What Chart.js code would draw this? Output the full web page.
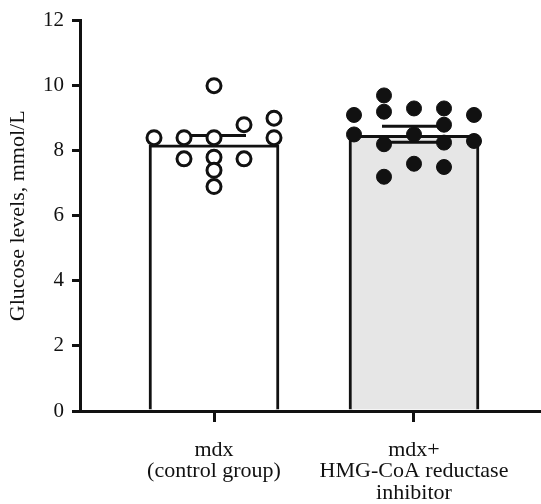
<!DOCTYPE html>
<html>
<head>
<meta charset="utf-8">
<script src="https://cdn.jsdelivr.net/npm/chart.js@4.4.1/dist/chart.umd.min.js"></script>
<style>
  html, body { margin: 0; padding: 0; background: #fff; overflow: hidden; }
  canvas { display: block; }
</style>
</head>
<body>
<canvas id="c" width="541" height="504"></canvas>
<script>
// ---- data ----
const categories = [["mdx", "(control group)"], ["mdx+", "HMG-CoA reductase", "inhibitor"]];
const means = [8.18, 8.47];
const errUpper = [0.29, 0.28];
const errLower = [0, 0.21];
const yTicks = [0, 2, 4, 6, 8, 10, 12];
const controlValues = [10.0, 8.4, 8.4, 8.4, 8.8, 9.0, 8.4, 7.75, 7.8, 7.75, 7.4, 6.9];
const controlCols   = [0, -2, -1, 0, 1, 2, 2, -1, 0, 1, 0, 0];
const treatedValues = [9.7, 9.2, 9.1, 9.3, 9.3, 9.1, 8.5, 8.8, 8.5, 8.25, 8.2, 8.3, 7.6, 7.5, 7.2];
const treatedCols   = [-1, -1, -2, 0, 1, 2, -2, 1, 0, 1, -1, 2, 0, 1, -1];
const yTitle = "Glucose levels, mmol/L";

// ---- styling ----
const colSpacing = 0.15;
const capHalf = 0.16;
const ink = '#111111';
const serif = "'Liberation Serif', 'Times New Roman', serif";

const barData = means.map((m, i) => ({ x: i, y: m }));
const errData = [];
means.forEach((m, i) => {
  const up = m + errUpper[i], lo = m - errLower[i];
  errData.push({ x: i - capHalf, y: up }, { x: i + capHalf, y: up }, { x: i, y: null });
  errData.push({ x: i, y: up }, { x: i, y: lo }, { x: i, y: null });
  if (errLower[i] > 0) {
    errData.push({ x: i - capHalf, y: lo }, { x: i + capHalf, y: lo }, { x: i, y: null });
  }
});
const ctrlPts = controlValues.map((v, k) => ({ x: 0 + controlCols[k] * colSpacing, y: v }));
const trtPts = treatedValues.map((v, k) => ({ x: 1 + treatedCols[k] * colSpacing, y: v }));

new Chart(document.getElementById('c'), {
  type: 'bar',
  data: {
    datasets: [
      {
        type: 'bar', data: barData, order: 3,
        backgroundColor: ['#ffffff', '#e6e6e6'],
        borderColor: ink, borderWidth: 3, barThickness: 130,
        borderSkipped: 'start'
      },
      {
        type: 'line', data: errData, order: 2,
        borderColor: ink, borderWidth: 3, pointRadius: 0, spanGaps: false,
        fill: false, tension: 0
      },
      {
        type: 'scatter', data: ctrlPts, order: 1,
        pointRadius: 7, pointBackgroundColor: '#ffffff', pointBorderColor: ink, pointBorderWidth: 3
      },
      {
        type: 'scatter', data: trtPts, order: 0,
        pointRadius: 7.5, pointBackgroundColor: ink, pointBorderColor: ink, pointBorderWidth: 1
      }
    ]
  },
  options: {
    responsive: false,
    animation: false,
    devicePixelRatio: 1,
    layout: { autoPadding: false, padding: { top: 20, right: 0, left: 0, bottom: 0 } },
    plugins: { legend: { display: false }, tooltip: { enabled: false } },
    scales: {
      x: {
        type: 'linear', min: -0.67, max: 1.635, offset: false,
        afterBuildTicks: (scale) => { scale.ticks = categories.map((c, i) => ({ value: i })); },
        afterFit: (scale) => { scale.height = 93; scale.paddingLeft = 0; scale.paddingRight = 0; },
        grid: { display: true, offset: false, drawOnChartArea: false, drawTicks: true, tickLength: 11, color: ink, lineWidth: 3 },
        border: { display: true, width: 3, color: ink },
        ticks: {
          autoSkip: false, maxRotation: 0, padding: 17, color: ink,
          font: { family: serif, size: 22, lineHeight: 0.98 },
          callback: (v) => categories[Math.round(v)]
        }
      },
      y: {
        min: 0, max: 12,
        afterBuildTicks: (scale) => { scale.ticks = yTicks.map(v => ({ value: v })); },
        afterFit: (scale) => { scale.width = 80; },
        grid: { display: true, drawOnChartArea: false, drawTicks: true, tickLength: 8, color: ink, lineWidth: 3 },
        border: { display: true, width: 3, color: ink },
        ticks: { padding: 8, color: ink, font: { family: serif, size: 21 } },
        title: { display: true, text: yTitle, color: ink, font: { family: serif, size: 22 }, padding: { top: 5, bottom: 0 } }
      }
    }
  }
});
</script>
</body>
</html>
